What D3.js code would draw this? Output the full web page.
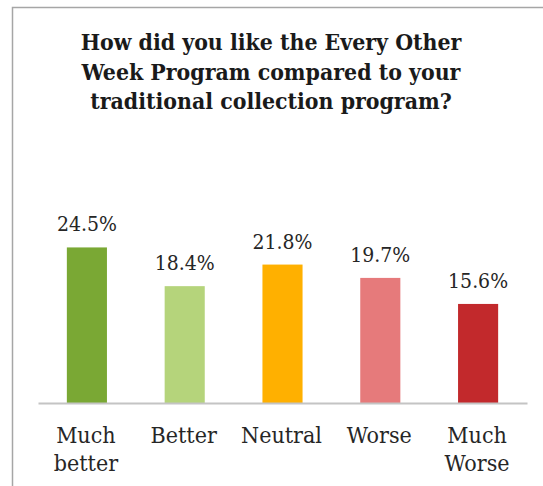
<!DOCTYPE html>
<html>
<head>
<meta charset="utf-8">
<script src="https://cdn.jsdelivr.net/npm/d3@7"></script>
<style>
  html, body { margin: 0; padding: 0; background: #fff; }
  svg { display: block; }
  svg text { font-family: "DejaVu Serif Condensed", "DejaVu Serif", serif; font-stretch: semi-condensed; }
</style>
</head>
<body>
<svg id="chart" width="543" height="486"></svg>
<script>
const titleLines = ["How did you like the Every Other", "Week Program compared to your", "traditional collection program?"];
const categories = ["Much better", "Better", "Neutral", "Worse", "Much Worse"];
const categoryLines = [["Much", "better"], ["Better"], ["Neutral"], ["Worse"], ["Much", "Worse"]];
const values = [24.5, 18.4, 21.8, 19.7, 15.6];
const valueLabels = ["24.5%", "18.4%", "21.8%", "19.7%", "15.6%"];
const colors = ["#7aa834", "#b5d47b", "#ffb000", "#e67a7b", "#c2292c"];

const svg = d3.select("#chart");
const W = 543, H = 486;

// fit a font size so a reference string reaches the width
function fitSize(str, weight, targetWidth) {
  const t = svg.append("text").attr("font-weight", weight)
    .attr("font-size", 20).text(str);
  const w = t.node().getComputedTextLength();
  t.remove();
  return w > 0 ? 20 * targetWidth / w : 20;
}
const titleSize = fitSize(titleLines[0], "bold", 381);
const valueSize = fitSize(valueLabels[0], "normal", 60);
const catSize = fitSize("Neutral", "normal", 81);

// frame
svg.append("path")
  .attr("d", `M12.5,${H} L12.5,7.5 L${W},7.5`)
  .attr("fill", "none")
  .attr("stroke", "#a6a6a6")
  .attr("stroke-width", 1.5);

// title
svg.append("g").selectAll("text")
  .data(titleLines)
  .join("text")
  .attr("x", 271)
  .attr("y", (d, i) => 50 + i * 29.6)
  .attr("text-anchor", "middle")
  .attr("font-weight", "bold")
  .attr("font-size", titleSize)
  .attr("fill", "#1a1a1a")
  .text(d => d);

const baseY = 403;
const x = d3.scaleBand()
  .domain(categories)
  .range([38, 527])
  .paddingInner(0.59)
  .paddingOuter(0.295);
const y = d3.scaleLinear()
  .domain([0, 30])
  .range([baseY, baseY - 190.5]);

// bars
svg.append("g").selectAll("rect")
  .data(values)
  .join("rect")
  .attr("x", (d, i) => x(categories[i]))
  .attr("width", x.bandwidth())
  .attr("y", d => y(d))
  .attr("height", d => y(0) - y(d))
  .attr("fill", (d, i) => colors[i]);

// axis line
const axis = d3.axisBottom(x).tickSize(0).tickFormat("");
const ax = svg.append("g").attr("transform", `translate(0,${baseY})`).call(axis);
ax.select(".domain").attr("stroke", "#c4c4c4").attr("stroke-width", 1.8);

// value labels
svg.append("g").selectAll("text")
  .data(values)
  .join("text")
  .attr("x", (d, i) => x(categories[i]) + x.bandwidth() / 2)
  .attr("y", d => y(d) - 16)
  .attr("text-anchor", "middle")
  .attr("font-size", valueSize)
  .attr("fill", "#262626")
  .text((d, i) => valueLabels[i]);

// category labels
const cat = svg.append("g").selectAll("text")
  .data(categoryLines)
  .join("text")
  .attr("x", (d, i) => x(categories[i]) + x.bandwidth() / 2 - 1)
  .attr("y", 443)
  .attr("text-anchor", "middle")
  .attr("font-size", catSize)
  .attr("fill", "#262626");
cat.selectAll("tspan")
  .data(d => d)
  .join("tspan")
  .attr("x", function () { return d3.select(this.parentNode).attr("x"); })
  .attr("dy", (d, i) => i === 0 ? 0 : 27.8)
  .text(d => d);
</script>
</body>
</html>
